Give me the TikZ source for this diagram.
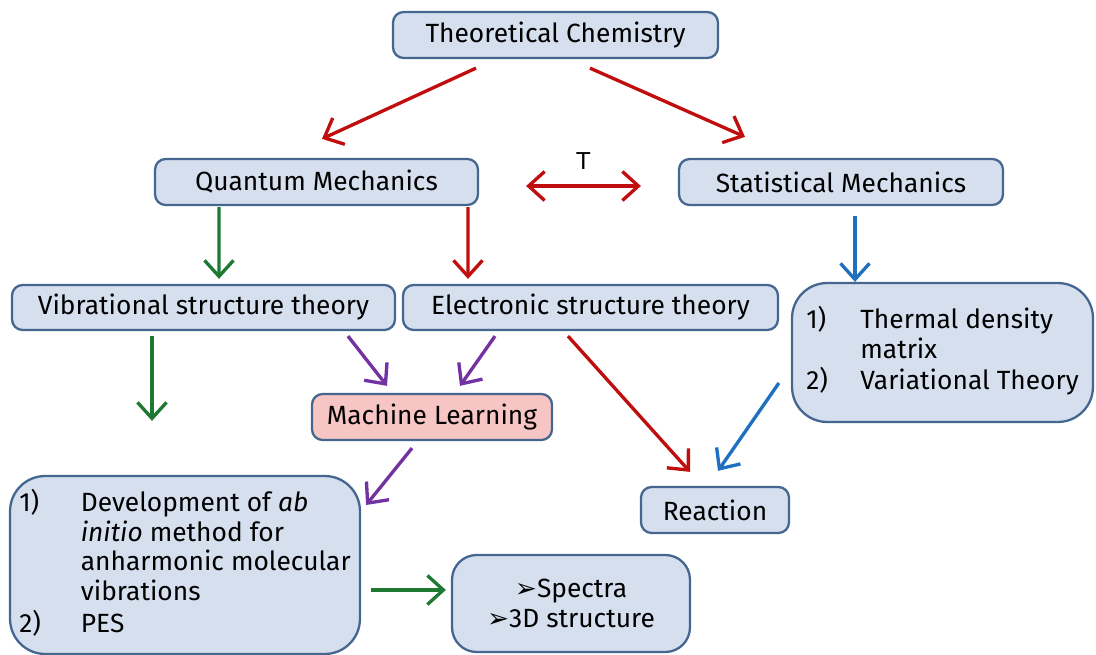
\documentclass[tikz,border=0pt]{standalone}
\usepackage{fontspec}
\setmainfont{Fira Sans}
\newfontfamily\symfont{DejaVu Sans}
\newfontfamily\labelfont{Liberation Sans}
\usetikzlibrary{arrows.meta,positioning,calc}
\definecolor{Pale}{HTML}{D5DFEE}
\definecolor{Edge}{HTML}{44668F}
\definecolor{Blush}{HTML}{F7C6C4}
\definecolor{Crimson}{HTML}{C00D0D}
\definecolor{Forest}{HTML}{1E7A32}
\definecolor{Ocean}{HTML}{1F70BE}
\definecolor{Violet}{HTML}{7232A2}

\begin{document}
\begin{tikzpicture}[x=0.02cm,y=-0.02cm,
    >={Straight Barb[length=3.2mm,width=5.8mm,line width=1.9pt]},
    box/.style={draw=Edge,fill=Pale,line width=1.3pt,rounded corners=6pt,
      font=\fontsize{15}{17}\selectfont,inner sep=0pt,align=center},
    bigbox/.style={box,rounded corners=20pt},
    link/.style={line width=1.9pt,->}]
    \useasboundingbox (0,0) rectangle (1096,655);
    \node[box,minimum width=6.5cm,minimum height=0.92cm] (theo) at (555.5,35) {Theoretical Chemistry};
    \node[box,minimum width=6.46cm,minimum height=0.92cm] (qm) at (316.5,182) {Quantum Mechanics};
    \node[box,minimum width=6.48cm,minimum height=0.92cm] (sm) at (841,182) {Statistical Mechanics};
    \node[box,minimum width=7.66cm,minimum height=0.9cm] (vib) at (203.5,307.5) {Vibrational structure theory};
    \node[box,minimum width=7.5cm,minimum height=0.9cm] (elec) at (590.5,307.5) {Electronic structure theory};
    \node[bigbox,minimum width=6.02cm,minimum height=2.78cm] (thermal) at (942.5,352.5)
      {\begin{tabular}{@{}l@{\hspace{0.65cm}}l@{}}1) & Thermal density\\ & matrix\\ 2) & Variational Theory\end{tabular}};
    \node[box,fill=Blush,minimum width=4.8cm,minimum height=0.92cm] (ml) at (432,417) {Machine Learning};
    \node[box,minimum width=2.96cm,minimum height=0.92cm] (reac) at (715,510) {Reaction};
    \node[bigbox,minimum width=7cm,minimum height=3.56cm] (dev) at (185,565)
      {\begin{tabular}{@{}l@{\hspace{0.8cm}}l@{}}1) & Development of \textit{ab}\\ & \textit{initio} method for\\ & anharmonic molecular\\ & vibrations\\ 2) & PES\end{tabular}};
    \node[bigbox,rounded corners=14pt,minimum width=4.76cm,minimum height=1.94cm] (spec) at (571,603.5)
      {{\symfont➢}Spectra\\ {\symfont➢}3D structure};
    % top level
    \draw[link,Crimson] ($(theo.south)+(-79.5,9)$) -- ($(qm.north)+(5.5,-19)$);
    \draw[link,Crimson] ($(theo.south)+(34.5,9)$) -- ($(sm.north)+(-96,-21)$);
    \draw[link,Crimson,<->] ($(qm.east)+(47,4)$)
      -- node[above=5pt,font=\labelfont\fontsize{14}{16}\selectfont,color=black] (t) {T} ($(sm.west)+(-37,4)$);
    % second level
    \draw[link,Forest] ($(qm.south)+(-97.5,1)$) -- ($(vib.north)+(15.5,-5)$);
    \draw[link,Crimson] ($(qm.south)+(151.5,1)$) -- ($(elec.north)+(-122.5,-5)$);
    \draw[link,Ocean] ($(sm.south)+(14,10)$) -- ($(thermal.north)+(-87.5,0)$);
    % third level
    \draw[link,Forest] ($(vib.south)+(-51.5,5)$) -- ($(dev.north)+(-33,-54)$);
    \draw[link,Violet] ($(vib.south)+(144.5,5)$) -- ($(ml.north)+(-45,-7)$);
    \draw[link,Violet] ($(elec.south)+(-95.5,5)$) -- ($(ml.north)+(28,-7)$);
    \draw[link,Crimson] ($(elec.south)+(-22.5,5)$) -- ($(reac.north)+(-25,-14)$);
    \draw[link,Ocean] ($(thermal.west)+(-12,30.5)$) -- ($(reac.north)+(3,-15)$);
    \draw[link,Violet] ($(ml.south)+(-20,7)$) -- ($(dev.east)+(5,-60)$);
    \draw[link,Forest] ($(dev.east)+(10,25)$) -- ($(spec.west)+(-5,-13.5)$);
  \end{tikzpicture}
\end{document}
